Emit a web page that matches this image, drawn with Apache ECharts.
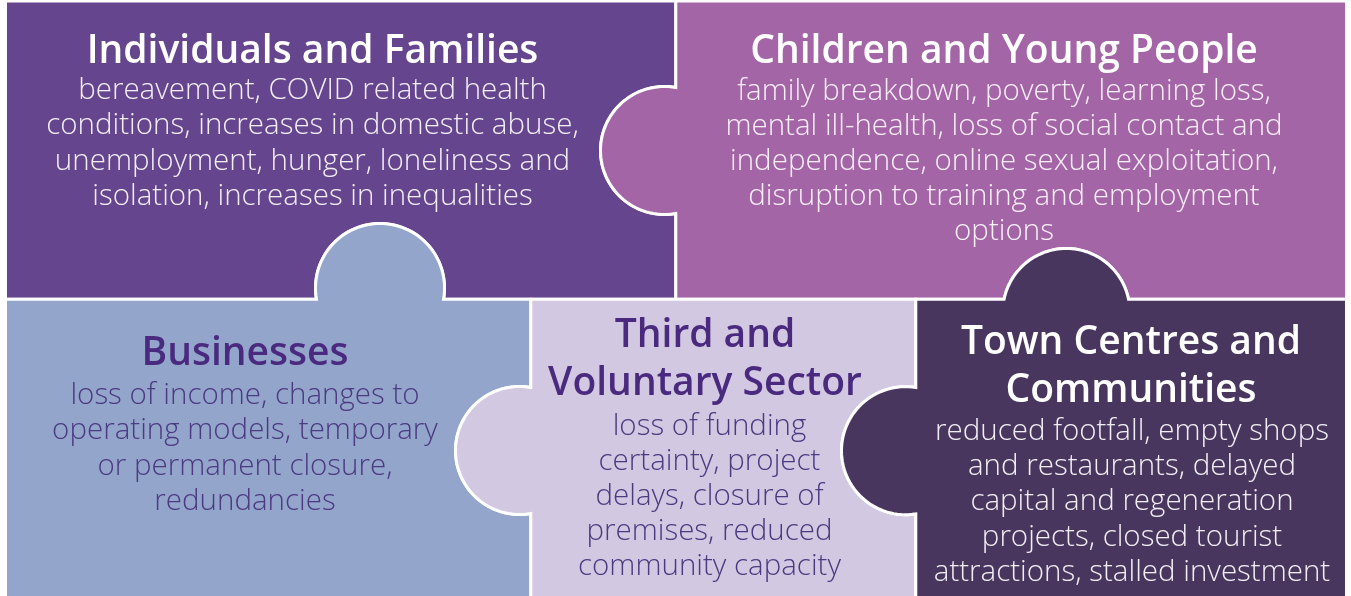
<!DOCTYPE html>
<html>
<head>
<meta charset="utf-8">
<script src="https://cdn.jsdelivr.net/npm/echarts@6/dist/echarts.min.js"></script>
<style>
html,body{margin:0;padding:0;background:#ffffff;}
#chart{width:1351px;height:596px;}
</style>
</head>
<body>
<div id="chart"></div>
<script>
// ---- content (data) ----
const titles = [
  'Individuals and Families',
  'Children and Young People',
  'Businesses',
  'Third and\nVoluntary Sector',
  'Town Centres and\nCommunities'
];
const descriptions = [
  ['bereavement, COVID related health', 'conditions, increases in domestic abuse,', 'unemployment, hunger, loneliness and', 'isolation, increases in inequalities'],
  ['family breakdown, poverty, learning loss,', 'mental ill-health, loss of social contact and', 'independence, online sexual exploitation,', 'disruption to training and employment', 'options'],
  ['loss of income, changes to', 'operating models, temporary', 'or permanent closure,', 'redundancies'],
  ['loss of funding', 'certainty, project', 'delays, closure of', 'premises, reduced', 'community capacity'],
  ['reduced footfall, empty shops', 'and restaurants, delayed', 'capital and regeneration', 'projects, closed tourist', 'attractions, stalled investment']
];
const pieceIndex = [0, 1, 2, 3, 4];

// ---- layout (positions / sizes) ----
const frame = { left: 5.5, right: 1346.5, top: 1, bottom: 600, row: 299.2, topSplit: 675.8, botSplit1: 530.8, botSplit2: 915.8 };
const knobs = {
  bizUp:      { cx: 380,    cy: 288,   r: 64.5, axis: 'h', line: frame.row,       t: -90 },
  childLeft:  { cx: 664.5,  cy: 150.5, r: 64,   axis: 'v', line: frame.topSplit,  t: 180 },
  thirdLeft:  { cx: 519.5,  cy: 450.5, r: 64,   axis: 'v', line: frame.botSplit1, t: 180 },
  townLeft:   { cx: 905.5,  cy: 450.7, r: 64,   axis: 'v', line: frame.botSplit2, t: 180 },
  townUp:     { cx: 1066.3, cy: 312,   r: 63.5, axis: 'h', line: frame.row,       t: -90 }
};
const textLayout = [
  { tx: 312.5, ty: 51.5,  bx: 312.5, by: 143.5 },
  { tx: 1004,  ty: 51.5,  bx: 1004,  by: 161.5 },
  { tx: 245,   ty: 353.5, bx: 245,   by: 448.5 },
  { tx: 705,   ty: 359.5, bx: 709.5, by: 496.5 },
  { tx: 1131,  ty: 367,   bx: 1132,  by: 502 }
];

// ---- styles ----
const fills = ['#65458E', '#A465A7', '#93A5CB', '#D3C8E1', '#48365E'];
const titleColors = ['#FFFFFF', '#FFFFFF', '#4A2A7F', '#4A2A7F', '#FFFFFF'];
const bodyColors = ['#F3EEF6', '#F7EFF7', '#4B3A80', '#4B3A80', '#F1EEF4'];
const titleFont = '600 39px "Open Sans"';
const bodyFont = '300 29.5px "Open Sans"';
const titleLH = 48, bodyLH = 35.2;

function wrap(a) { while (a > 180) a -= 360; while (a <= -180) a += 360; return a; }
function arc(k, reverse) {
  const F = Math.PI / 180;
  let p1, p2;
  if (k.axis === 'h') {
    const half = Math.sqrt(k.r * k.r - (k.cy - k.line) * (k.cy - k.line));
    p1 = [k.cx - half, k.line]; p2 = [k.cx + half, k.line];
  } else {
    const half = Math.sqrt(k.r * k.r - (k.cx - k.line) * (k.cx - k.line));
    p1 = [k.line, k.cy - half]; p2 = [k.line, k.cy + half];
  }
  const a1 = wrap(Math.atan2(p1[1] - k.cy, p1[0] - k.cx) / F - k.t);
  const a2 = wrap(Math.atan2(p2[1] - k.cy, p2[0] - k.cx) / F - k.t);
  const pts = [];
  const n = 60;
  for (let i = 0; i <= n; i++) {
    const a = (a1 + (a2 - a1) * i / n + k.t) * F;
    pts.push([k.cx + k.r * Math.cos(a), k.cy + k.r * Math.sin(a)]);
  }
  pts[0] = p1; pts[n] = p2;
  return reverse ? pts.reverse() : pts;
}
const f = frame;
const outlines = [
  [[f.left, f.top], [f.topSplit, f.top]].concat(arc(knobs.childLeft, false), [[f.topSplit, f.row]], arc(knobs.bizUp, true), [[f.left, f.row]]),
  [[f.topSplit, f.top], [f.right, f.top], [f.right, f.row]].concat(arc(knobs.townUp, true), [[f.topSplit, f.row]], arc(knobs.childLeft, true)),
  [[f.left, f.row]].concat(arc(knobs.bizUp, false), [[f.botSplit1, f.row]], arc(knobs.thirdLeft, false), [[f.botSplit1, f.bottom], [f.left, f.bottom]]),
  [[f.botSplit1, f.row], [f.botSplit2, f.row]].concat(arc(knobs.townLeft, false), [[f.botSplit2, f.bottom], [f.botSplit1, f.bottom]], arc(knobs.thirdLeft, true)),
  [[f.botSplit2, f.row]].concat(arc(knobs.townUp, false), [[f.right, f.row], [f.right, f.bottom], [f.botSplit2, f.bottom]], arc(knobs.townLeft, true))
];

const chart = echarts.init(document.getElementById('chart'), null, { renderer: 'canvas' });
chart.setOption({
  animation: false,
  backgroundColor: '#ffffff',
  grid: { left: 0, right: 0, top: 0, bottom: 0 },
  xAxis: { type: 'value', min: 0, max: 1351, show: false },
  yAxis: { type: 'value', min: 0, max: 596, inverse: true, show: false },
  series: [{
    type: 'custom',
    silent: true,
    clip: false,
    data: pieceIndex.map(i => [i]),
    renderItem: function (params, api) {
      const i = api.value(0);
      const pts = outlines[i].map(p => api.coord(p));
      const L = textLayout[i];
      const tp = api.coord([L.tx, L.ty]);
      const bp = api.coord([L.bx, L.by]);
      return {
        type: 'group',
        children: [
          { type: 'polygon', shape: { points: pts }, style: { fill: fills[i], stroke: '#ffffff', lineWidth: 3, lineJoin: 'miter' } },
          { type: 'text', style: { text: titles[i], x: tp[0], y: tp[1], font: titleFont, fill: titleColors[i], align: 'center', verticalAlign: 'middle', lineHeight: titleLH } },
          { type: 'text', style: { text: descriptions[i].join('\n'), x: bp[0], y: bp[1], font: bodyFont, fill: bodyColors[i], align: 'center', verticalAlign: 'middle', lineHeight: bodyLH } }
        ]
      };
    }
  }]
});
</script>
</body>
</html>
